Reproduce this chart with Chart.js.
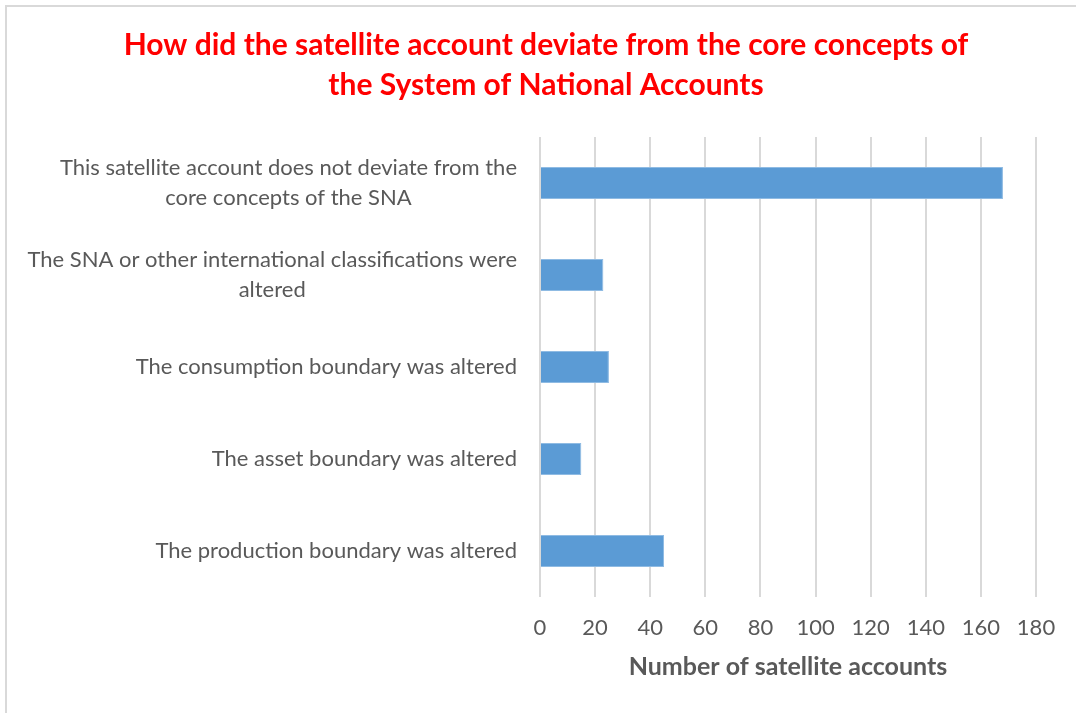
<!DOCTYPE html>
<html>
<head>
<meta charset="utf-8">
<script src="https://cdn.jsdelivr.net/npm/chart.js@4.4.1/dist/chart.umd.min.js"></script>
<style>
  html, body { margin: 0; padding: 0; background: #fff; }
  #wrap { position: relative; width: 1076px; height: 713px; overflow: hidden; }
  #frame { position: absolute; left: 5px; top: 5px; width: 1200px; height: 800px;
           border-left: 2px solid #d9d9d9; border-top: 2px solid #d9d9d9; }
  canvas { position: absolute; left: 0; top: 0; }
</style>
</head>
<body>
<div id="wrap">
  <div id="frame"></div>
  <canvas id="chart" width="1076" height="713"></canvas>
</div>
<script>
  var categories = [
    ['This satellite account does not deviate from the', 'core concepts of the SNA'],
    ['The SNA or other international classifications were', 'altered'],
    'The consumption boundary was altered',
    'The asset boundary was altered',
    'The production boundary was altered'
  ];
  var accounts = [168, 23, 25, 15, 45];
  var titleLines = [
    'How did the satellite account deviate from the core concepts of',
    'the System of National Accounts'
  ];
  var xTitle = 'Number of satellite accounts';

  var grey = '#595959';
  var gridColor = '#d9d9d9';
  var font = 'Lato, Carlito, Calibri, sans-serif';
  var labelSize = 22;

  // category labels: lines centred on each other, block right-aligned to the axis
  var categoryLabels = {
    id: 'categoryLabels',
    afterDraw: function (chart) {
      var ctx = chart.ctx;
      var y = chart.scales.y;
      var right = chart.chartArea.left - 23;
      var lh = labelSize * 1.36;
      ctx.save();
      ctx.font = labelSize + 'px ' + font;
      ctx.fillStyle = grey;
      ctx.textAlign = 'center';
      ctx.textBaseline = 'middle';
      categories.forEach(function (lab, i) {
        var lines = Array.isArray(lab) ? lab : [lab];
        var w = 0;
        lines.forEach(function (l) { w = Math.max(w, ctx.measureText(l).width); });
        var cx = right - w / 2;
        var cy = y.getPixelForTick(i) - (lines.length - 1) * lh / 2;
        lines.forEach(function (l, j) { ctx.fillText(l, cx, cy + j * lh); });
      });
      ctx.restore();
    }
  };

  new Chart(document.getElementById('chart'), {
    type: 'bar',
    data: {
      labels: categories,
      datasets: [{
        data: accounts,
        backgroundColor: '#5b9bd5',
        borderColor: '#8fbbe3',
        borderWidth: 1,
        categoryPercentage: 0.7,
        barPercentage: 0.5
      }]
    },
    options: {
      indexAxis: 'y',
      responsive: false,
      animation: false,
      layout: { padding: { left: 56, right: 40, top: 0, bottom: 0 } },
      plugins: {
        legend: { display: false },
        tooltip: { enabled: false },
        title: {
          display: true,
          text: titleLines,
          color: '#ff0000',
          font: { family: font, size: 30, weight: 'bold', lineHeight: 1.333 },
          padding: { top: 25, bottom: 32 }
        }
      },
      scales: {
        x: {
          min: 0,
          max: 180,
          afterFit: function (scale) { scale.height = 116; },
          ticks: { stepSize: 20, color: grey, font: { family: font, size: 22 }, padding: 18 },
          grid: { color: gridColor, lineWidth: 2, drawTicks: false },
          border: { display: false },
          title: {
            display: true,
            text: xTitle,
            color: grey,
            font: { family: font, size: 25, weight: 'bold' },
            padding: { top: 0, bottom: 31 }
          }
        },
        y: {
          afterFit: function (scale) { scale.width = 484; },
          ticks: { display: false },
          grid: { display: false, drawTicks: false },
          border: { display: false }
        }
      }
    },
    plugins: [categoryLabels]
  });
</script>
</body>
</html>
